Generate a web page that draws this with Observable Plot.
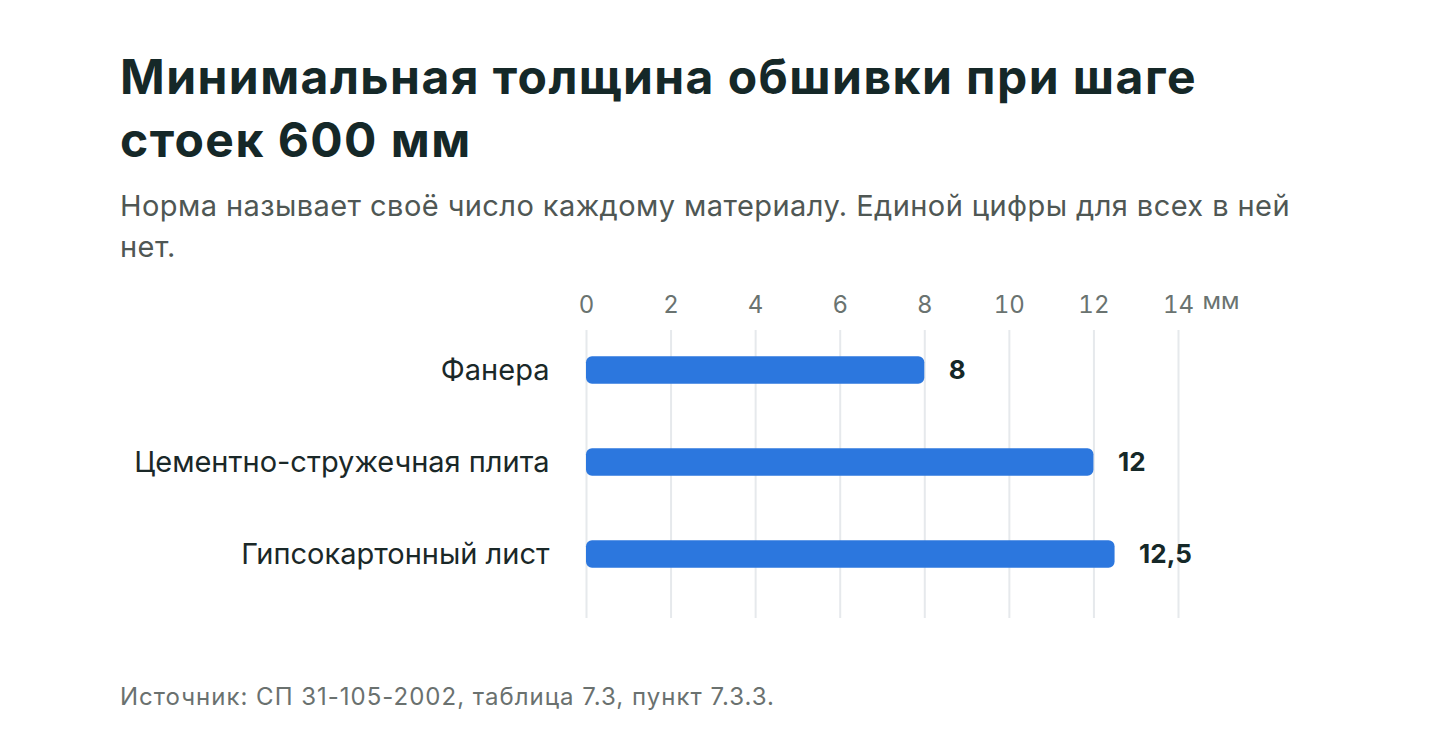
<!DOCTYPE html>
<html>
<head>
<meta charset="utf-8">
<script src="https://cdn.jsdelivr.net/npm/d3@7"></script>
<script src="https://cdn.jsdelivr.net/npm/@observablehq/plot@0.6"></script>
<style>
  html, body { margin: 0; padding: 0; background: #ffffff; }
  body { font-family: Inter, "Noto Sans", sans-serif; width: 1456px; height: 746px; overflow: hidden; }
  .wrap { position: relative; }
  h1 { position: absolute; left: 120px; top: 45px; margin: 0; font-size: 48px; line-height: 63px; font-weight: 700; color: #152828; letter-spacing: 1.45px; white-space: nowrap; }
  .sub { position: absolute; left: 120px; top: 185px; margin: 0; font-size: 29px; line-height: 41px; font-weight: 400; color: #4f5754; letter-spacing: 0.42px; white-space: nowrap; }
  #chart { position: absolute; left: 0; top: 270px; }
  .cap { position: absolute; left: 120px; top: 682px; margin: 0; font-size: 24px; line-height: 30px; color: #6a716f; letter-spacing: 1px; white-space: nowrap; }
</style>
</head>
<body>
<div class="wrap">
  <h1>Минимальная толщина обшивки при шаге<br>стоек 600 мм</h1>
  <p class="sub">Норма называет своё число каждому материалу. Единой цифры для всех в ней<br>нет.</p>
  <div id="chart"></div>
  <p class="cap">Источник: СП 31-105-2002, таблица 7.3, пункт 7.3.3.</p>
</div>
<script>
const materials = ["Фанера", "Цементно-стружечная плита", "Гипсокартонный лист"];
const thickness = [8, 12, 12.5];
const xTicks = [0, 2, 4, 6, 8, 10, 12, 14];
const unitLabel = "мм";

const data = materials.map((m, i) => ({material: m, value: thickness[i]}));
const fmt = v => String(v).replace(".", ",");

const chart = Plot.plot({
  width: 1456,
  height: 380,
  marginLeft: 586,
  marginRight: 278,
  marginTop: 60,
  marginBottom: 32,
  style: {fontFamily: "Inter, 'Noto Sans', sans-serif", background: "transparent"},
  x: {domain: [0, 14], ticks: xTicks},
  y: {domain: materials, range: [54, 330], paddingInner: 0.7, paddingOuter: 0.35, round: false},
  marks: [
    Plot.ruleX(xTicks, {stroke: "#e6e9ec", strokeWidth: 2}),
    Plot.axisX({anchor: "top", ticks: xTicks, tickSize: 0, tickPadding: 18, fontSize: 24, fill: "#6a7370", label: null, tickFormat: d => String(d)}),
    Plot.text([{x: xTicks[xTicks.length - 1], t: unitLabel}], {x: "x", text: "t", frameAnchor: "top", dy: -39, dx: 24, textAnchor: "start", fontSize: 24, fill: "#6a7370"}),
    Plot.axisY({tickSize: 0, tickPadding: 37, fontSize: 29, fill: "#1a2828", label: null}),
    Plot.barX(data, {x: "value", y: "material", fill: "#2c77de", rx: 6}),
    Plot.text(data, {x: "value", y: "material", text: d => fmt(d.value), dx: 24, textAnchor: "start", fontSize: 26, fontWeight: 700, fill: "#152828"})
  ]
});
document.getElementById("chart").appendChild(chart);
</script>
</body>
</html>
